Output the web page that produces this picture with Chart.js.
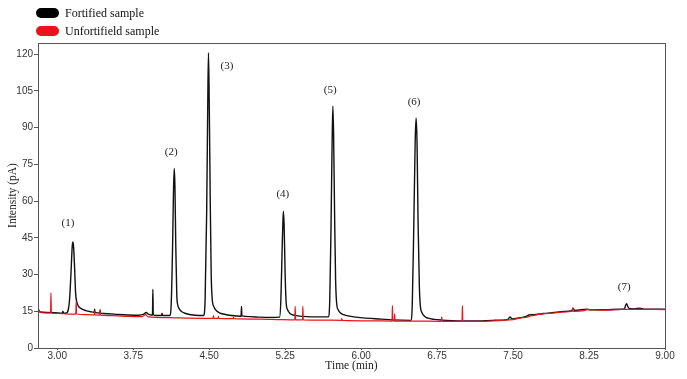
<html>
<head>
<script src="https://cdn.jsdelivr.net/npm/chart.js@4.4.1/dist/chart.umd.min.js"></script>
<style>
  body { margin: 0; background: #fff; }
  #wrap { position: relative; width: 687px; height: 379px; }
  .key { position: absolute; left: 36px; width: 23px; height: 10px; border-radius: 5px; }
  .keytext { position: absolute; left: 65px; font: 12px "Liberation Serif", serif; color: #111; line-height: 14px; }
</style>
<title>Chromatogram</title>
</head>
<body>
<div id="wrap">
  <canvas id="gcChart" width="687" height="379"></canvas>
  <div class="key" style="top:8px; background:#000;"></div>
  <div class="keytext" style="top:6px;">Fortified sample</div>
  <div class="key" style="top:26px; background:#e8141c;"></div>
  <div class="keytext" style="top:24px;">Unfortifield sample</div>
</div>
<script>
// time (min), intensity (pA)
var fortifiedPoints = [
  [2.81,14.9],[2.815,15.6],[2.83,14.7],[2.90,14.5],[2.98,14.4],[3.05,14.2],[3.056,15.0],[3.062,14.2],[3.09,14.3],
  [3.12,19.0],[3.135,30.0],[3.148,41.5],[3.155,43.3],[3.162,41.0],[3.172,32.0],[3.182,22.0],[3.195,18.5],[3.21,17.0],
  [3.24,16.0],[3.28,15.3],[3.33,14.8],[3.365,14.6],[3.369,15.8],[3.373,14.6],[3.42,14.3],[3.424,15.4],[3.428,14.2],
  [3.50,14.0],[3.60,13.7],[3.70,13.5],[3.80,13.4],[3.85,13.7],[3.878,14.5],[3.90,13.8],[3.940,13.4],[3.944,24.0],
  [3.948,13.6],[3.98,13.3],[4.03,13.3],[4.034,14.2],[4.038,13.3],[4.11,13.3],
  [4.125,18.0],[4.138,40.0],[4.148,65.0],[4.155,73.3],[4.162,66.0],[4.170,42.0],[4.180,22.0],[4.19,17.5],[4.205,16.0],
  [4.23,14.8],[4.27,14.1],[4.32,13.6],[4.40,13.3],[4.445,13.3],
  [4.460,20.0],[4.475,55.0],[4.486,100.0],[4.493,120.6],[4.500,102.0],[4.510,62.0],[4.520,30.0],[4.530,20.0],[4.545,17.0],
  [4.57,15.3],[4.60,14.4],[4.65,13.8],[4.72,13.3],[4.815,13.0],[4.819,17.0],[4.823,13.1],[4.90,12.8],[5.00,12.6],
  [5.10,12.5],[5.195,12.6],
  [5.208,20.0],[5.220,40.0],[5.228,52.0],[5.233,55.9],[5.240,50.0],[5.250,30.0],[5.260,18.5],[5.275,15.5],[5.30,14.0],
  [5.35,13.3],[5.42,12.9],[5.50,12.7],[5.675,12.7],
  [5.690,19.0],[5.703,50.0],[5.714,85.0],[5.721,98.8],[5.728,88.0],[5.738,55.0],[5.748,28.0],[5.758,18.5],[5.775,15.5],
  [5.80,14.2],[5.85,13.3],[5.95,12.6],[6.05,12.2],[6.20,11.8],[6.30,11.5],[6.49,11.3],
  [6.505,18.0],[6.520,50.0],[6.534,85.0],[6.543,94.0],[6.552,84.0],[6.562,52.0],[6.575,25.0],[6.585,17.0],[6.60,14.5],
  [6.625,13.0],[6.66,12.2],[6.72,11.7],[6.80,11.4],[6.90,11.2],[7.00,11.1],[7.15,11.1],[7.30,11.3],[7.45,11.7],
  [7.47,12.7],[7.49,11.9],[7.55,12.2],[7.62,12.8],[7.668,13.6],[7.70,13.6],[7.80,14.1],[7.90,14.5],[8.00,14.9],
  [8.08,15.2],[8.09,16.2],[8.11,15.3],[8.234,15.9],[8.25,15.6],[8.40,15.6],[8.55,15.8],[8.60,16.0],
  [8.612,17.6],[8.622,18.1],[8.632,17.0],[8.645,16.2],[8.70,16.0],[8.75,16.3],[8.80,15.8],[9.00,15.8]
];

var unfortifiedPoints = [
  [2.81,14.5],[2.815,15.6],[2.83,14.5],[2.934,14.3],[2.938,22.5],[2.942,14.3],[3.00,14.1],[3.10,13.9],[3.183,13.8],
  [3.187,19.2],[3.191,13.9],[3.30,13.6],[3.365,13.5],[3.369,15.2],[3.373,13.5],[3.420,13.4],[3.424,15.7],[3.428,13.4],
  [3.55,13.2],[3.70,12.9],[3.84,12.8],[3.87,13.6],[3.90,12.7],[4.10,12.4],[4.30,12.2],[4.538,12.1],[4.542,13.2],
  [4.546,12.1],[4.588,12.1],[4.592,12.9],[4.596,12.1],[4.736,12.0],[4.74,12.6],[4.744,12.0],[5.00,11.8],[5.20,11.6],
  [5.345,11.5],[5.349,17.0],[5.353,11.5],[5.421,11.5],[5.425,17.0],[5.429,11.5],[5.60,11.4],[5.806,11.3],[5.81,12.0],
  [5.814,11.3],[6.10,11.1],[6.305,11.0],[6.309,17.3],[6.313,11.0],[6.327,11.0],[6.331,14.0],[6.335,11.0],[6.50,11.0],
  [6.792,10.9],[6.796,12.7],[6.800,10.9],[6.996,10.9],[7.000,17.3],[7.004,10.9],[7.20,10.9],[7.40,11.3],[7.50,11.6],
  [7.60,12.4],[7.665,13.0],[7.668,13.8],[7.671,13.1],[7.75,13.7],[7.90,14.3],[8.00,14.7],[8.085,15.0],[8.09,16.5],
  [8.095,15.0],[8.20,15.3],[8.234,15.7],[8.40,15.5],[8.55,15.7],[8.61,15.8],[8.70,15.8],[9.00,15.7]
];

var timeTicks = [3.00, 3.75, 4.50, 5.25, 6.00, 6.75, 7.50, 8.25, 9.00];
var intensityTicks = [0, 15, 30, 45, 60, 75, 90, 105, 120];

var peakLabels = ['(1)', '(2)', '(3)', '(4)', '(5)', '(6)', '(7)'];
var peakLabelTimes = [3.106, 4.125, 4.675, 5.227, 5.694, 6.523, 8.598];
var peakLabelValues = [51.1, 80.1, 115.1, 62.7, 105.3, 100.5, 24.9];

function toXY(pts) {
  return pts.map(function(p) { return {x: p[0], y: p[1]}; });
}

// frame round the plot and the peak numbers
var framePlugin = {
  id: 'frame',
  afterDatasetsDraw: function(chart) {
    var ctx = chart.ctx, a = chart.chartArea;
    ctx.save();
    ctx.strokeStyle = '#555';
    ctx.lineWidth = 1;
    ctx.strokeRect(a.left + 0.5, a.top + 0.5, a.right - a.left, a.bottom - a.top);
    ctx.fillStyle = '#222';
    ctx.font = '11px "Liberation Serif", serif';
    ctx.textAlign = 'center';
    ctx.textBaseline = 'middle';
    for (var i = 0; i < peakLabels.length; i++) {
      ctx.fillText(peakLabels[i],
        chart.scales.x.getPixelForValue(peakLabelTimes[i]),
        chart.scales.y.getPixelForValue(peakLabelValues[i]));
    }
    ctx.restore();
  }
};

var ctx = document.getElementById('gcChart').getContext('2d');
var gcChart = new Chart(ctx, {
  type: 'line',
  data: {
    datasets: [{
      label: 'Unfortifield sample',
      data: toXY(unfortifiedPoints),
      borderColor: '#e8141c',
      borderWidth: 1.2,
      pointRadius: 0,
      cubicInterpolationMode: 'monotone',
      order: 0
    }, {
      label: 'Fortified sample',
      data: toXY(fortifiedPoints),
      borderColor: '#111',
      borderWidth: 1.4,
      pointRadius: 0,
      cubicInterpolationMode: 'monotone',
      order: 1
    }]
  },
  options: {
    responsive: false,
    animation: false,
    layout: { padding: { top: 43, right: 22, left: 0, bottom: 0 } },
    plugins: { legend: { display: false }, tooltip: { enabled: false } },
    scales: {
      x: {
        type: 'linear',
        min: 2.81,
        max: 9.0,
        afterBuildTicks: function(scale) {
          scale.ticks = timeTicks.map(function(v) { return {value: v}; });
        },
        afterFit: function(scale) { scale.height = 31; },
        grid: { drawOnChartArea: false, tickLength: 2, color: '#555' },
        border: { color: '#555' },
        ticks: {
          padding: 0,
          maxRotation: 0,
          color: '#333',
          font: { family: '"Liberation Sans", Arial, sans-serif', size: 10 },
          callback: function(v) { return v.toFixed(2); }
        },
        title: {
          display: true,
          text: 'Time (min)',
          color: '#222',
          font: { family: '"Liberation Serif", serif', size: 11.5 },
          padding: { top: 0, bottom: 6 }
        }
      },
      y: {
        min: 0,
        max: 124.6,
        afterBuildTicks: function(scale) {
          scale.ticks = intensityTicks.map(function(v) { return {value: v}; });
        },
        afterFit: function(scale) { scale.width = 38; },
        grid: { drawOnChartArea: false, tickLength: 4, color: '#555' },
        border: { color: '#555' },
        ticks: {
          padding: 1,
          color: '#333',
          font: { family: '"Liberation Sans", Arial, sans-serif', size: 10 }
        },
        title: {
          display: true,
          text: 'Intensity (pA)',
          color: '#222',
          font: { family: '"Liberation Serif", serif', size: 11.5 },
          padding: { top: 6, bottom: 0 }
        }
      }
    }
  },
  plugins: [framePlugin]
});
</script>
</body>
</html>
